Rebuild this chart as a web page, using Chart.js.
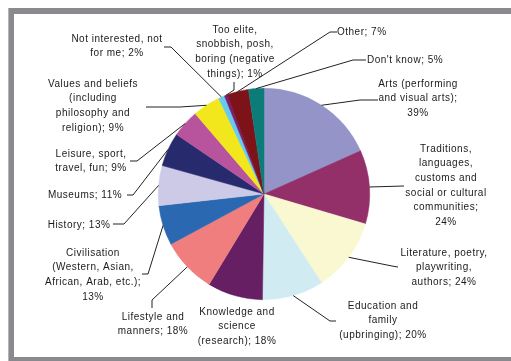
<!DOCTYPE html>
<html>
<head>
<meta charset="utf-8">
<script src="https://cdn.jsdelivr.net/npm/chart.js@4"></script>
<style>
  html, body { margin: 0; padding: 0; background: #fff; }
  #wrap { width: 511px; height: 361px; position: relative; }
</style>
</head>
<body>
<div id="wrap"><canvas id="pieChart" width="511" height="361"></canvas></div>
<script>
// Answers, clockwise from the top; "\n" marks where a label wraps
const categories = [
  'Arts (performing\nand visual arts)',
  'Traditions,\nlanguages,\ncustoms and\nsocial or cultural\ncommunities',
  'Literature, poetry,\nplaywriting,\nauthors',
  'Education and\nfamily\n(upbringing)',
  'Knowledge and\nscience\n(research)',
  'Lifestyle and\nmanners',
  'Civilisation\n(Western, Asian,\nAfrican, Arab, etc.)',
  'History',
  'Museums',
  'Leisure, sport,\ntravel, fun',
  'Values and beliefs\n(including\nphilosophy and\nreligion)',
  'Not interested, not\nfor me',
  'Too elite,\nsnobbish, posh,\nboring (negative\nthings)',
  'Other',
  "Don't know"
];
const percentages = [39, 24, 24, 20, 18, 18, 13, 13, 11, 9, 9, 2, 1, 7, 5];

const sliceColors = [
  '#9494c9', '#93306a', '#faf8d0', '#d0ecf2', '#651f62',
  '#f07e7e', '#2b68b2', '#cccae6', '#282a6e', '#b8539e',
  '#f2e61c', '#66ccea', '#7a1c7e', '#7d1318', '#0c7c78'
];

// where each label sits and where its leader line ends
const labelLayout = [
  { x: 418, y: 84, own: true, anchor: [378, 100], elbow: [360, 100] },
  { x: 446, y: 149, own: true, anchor: [404, 186] },
  { x: 444, y: 253, own: false, anchor: [398, 267], elbow: [392, 266] },
  { x: 383, y: 306, own: false, anchor: [336, 321], elbow: [330, 321] },
  { x: 237, y: 312, own: false },
  { x: 153, y: 317, own: false, anchor: [152, 308], elbow: [152, 300] },
  { x: 93, y: 253, own: true, anchor: [142, 274], elbow: [148, 274] },
  { x: 79, y: 225, own: false, anchor: [113, 224], elbow: [124, 224] },
  { x: 85, y: 195, own: false, anchor: [127, 195], elbow: [133, 195] },
  { x: 91, y: 154, own: false, anchor: [130, 161], elbow: [137, 161] },
  { x: 93, y: 84, own: false, anchor: [146, 107], elbow: [180, 107] },
  { x: 117, y: 39, own: false, anchor: [164, 47], elbow: [171, 47] },
  { x: 235, y: 30, own: false, anchor: [234, 82], elbow: [234, 90] },
  { x: 337, y: 32, own: false, align: 'left', anchor: [337, 32], elbow: [330, 32] },
  { x: 367, y: 60, own: false, align: 'left', anchor: [366, 60], elbow: [353, 60] }
];
const LINE_H = 14.6;

function labelLines(i) {
  const lines = categories[i].split('\n');
  const v = percentages[i] + '%';
  if (labelLayout[i].own) {
    lines[lines.length - 1] += ';';
    lines.push(v);
  } else {
    lines[lines.length - 1] += '; ' + v;
  }
  return lines;
}

const framePlugin = {
  id: 'frame',
  beforeDraw(chart) {
    const ctx = chart.ctx;
    ctx.save();
    ctx.fillStyle = '#8a8a8e';
    ctx.fillRect(8, 8, 511, 6);
    ctx.fillRect(8, 8, 6, 361);
    ctx.fillRect(8, 357, 511, 6);
    ctx.fillStyle = '#b4b4b8';
    ctx.fillRect(8, 8, 1, 361);
    ctx.restore();
  }
};

const sliceLabels = {
  id: 'sliceLabels',
  afterDraw(chart) {
    const ctx = chart.ctx;
    const arcs = chart.getDatasetMeta(0).data;
    ctx.save();
    ctx.font = '10px "Liberation Sans", Arial, sans-serif';
    ctx.letterSpacing = '0.5px';
    ctx.textBaseline = 'middle';
    ctx.strokeStyle = '#222';
    ctx.lineWidth = 1;
    ctx.fillStyle = '#1a1a1a';
    arcs.forEach((arc, i) => {
      const L = labelLayout[i];
      if (L.anchor) {
        const mid = (arc.startAngle + arc.endAngle) / 2;
        const px = arc.x + Math.cos(mid) * arc.outerRadius;
        const py = arc.y + Math.sin(mid) * arc.outerRadius;
        ctx.beginPath();
        ctx.moveTo(px, py);
        if (L.elbow) ctx.lineTo(L.elbow[0], L.elbow[1]);
        ctx.lineTo(L.anchor[0], L.anchor[1]);
        ctx.stroke();
      }
      ctx.textAlign = L.align || 'center';
      labelLines(i).forEach((t, j) => ctx.fillText(t, L.x, L.y + j * LINE_H));
    });
    ctx.restore();
  }
};

new Chart(document.getElementById('pieChart'), {
  type: 'pie',
  data: {
    labels: categories,
    datasets: [{
      data: percentages,
      backgroundColor: sliceColors,
      borderColor: sliceColors,
      borderWidth: 0.5,
      offset: 0,
      hoverOffset: 0
    }]
  },
  options: {
    responsive: false,
    animation: false,
    layout: { padding: { top: 88, bottom: 61, left: 150, right: 133 } },
    plugins: {
      legend: { display: false },
      tooltip: { enabled: false }
    }
  },
  plugins: [framePlugin, sliceLabels]
});
</script>
</body>
</html>
